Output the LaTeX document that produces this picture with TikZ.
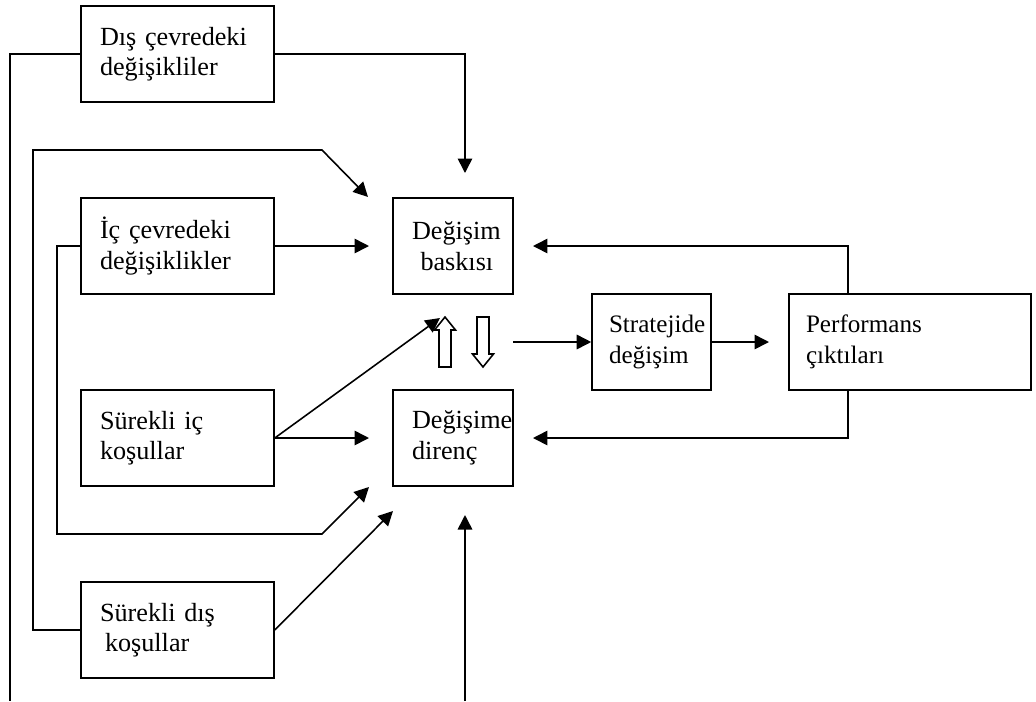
\documentclass[tikz,border=0pt]{standalone}
\usepackage{fontspec}
\setmainfont{Liberation Serif}
\usepackage{tikz}
\usetikzlibrary{arrows.meta}

\begin{document}
\begin{tikzpicture}[x=0.02cm,y=-0.02cm,>={Triangle[length=0.29cm,width=0.29cm]},line width=0.9pt,
  box/.style={draw,align=left,inner xsep=0.38cm,text width=#1,minimum height=1.92cm,font=\fontsize{14.9}{17.3}\selectfont},
  smallbox/.style={box=#1,inner xsep=0.34cm,font=\fontsize{14.3}{17.3}\selectfont}]
\useasboundingbox (0,0) rectangle (1036,701);
\node[box=3.1cm] (dis) at (177.5,54) {Dış çevredeki\\değişikliler};
\node[box=3.1cm] (ic) at (177.5,246) {İç çevredeki\\değişiklikler};
\node[box=3.1cm] (sic) at (177.5,438) {Sürekli iç\\koşullar};
\node[box=3.1cm] (sdis) at (177.5,630) {Sürekli dış\\\hspace*{0.1cm}koşullar};
\node[box=1.64cm] (baski) at (453,246) {Değişim\\\hspace*{0.17cm}baskısı};
\node[box=1.64cm] (direnc) at (453,438) {Değişime\\direnç};
\node[smallbox=1.7cm] (strateji) at (651.5,342) {Stratejide\\değişim};
\node[smallbox=4.16cm] (perf) at (910,342) {Performans\\çıktıları};
\coordinate (outL) at (10,701);
\coordinate (outB) at (465,701);
\coordinate (perfx) at (848,0);
\draw (dis.west) -| (outL);
\draw[->] (dis.east) -| (465,173);
\draw[->] (sdis.west) -| (33,150) -- (322,150) -- (368,197);
\draw[->] (ic.west) -| (57,534) -- (322,534) -- (369,487);
\draw[->] (ic.east) -- (369,246);
\draw[->] (sic.east) -- (369,438);
\draw[->] (sic.east) -- (440,318);
\draw[->] (sdis.east) -- (393,511);
\draw[->] (outB) -- (465,515);
\draw (439,367) -- (439,330) -- (434.5,330) -- (445,317) -- (455.5,330) -- (451,330) -- (451,367) -- cycle;
\draw (477,317) -- (477,354) -- (472.5,354) -- (483,367) -- (493.5,354) -- (489,354) -- (489,317) -- cycle;
\draw[->] (513,342) -- (strateji.west);
\draw[->] (strateji.east) -- (769,342);
\draw[->] (perf.north -| perfx) |- (533,246);
\draw[->] (perf.south -| perfx) |- (533,438);
\end{tikzpicture}
\end{document}
